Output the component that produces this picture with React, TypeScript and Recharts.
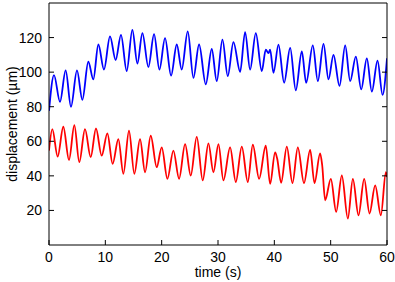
import React from 'react';
import { LineChart, Line, XAxis, YAxis, Label } from 'recharts';

const blueTime = [0, 0.89, 1.95, 2.96, 3.9, 4.97, 5.92, 6.98, 7.87, 8.76, 9.76, 10.83, 11.83, 12.78, 13.79, 14.8, 15.69, 16.58, 17.64, 18.65, 19.6, 20.6, 21.67, 22.68, 23.56, 24.63, 25.64, 26.64, 27.83, 28.89, 29.78, 30.79, 31.73, 32.74, 33.93, 34.81, 35.7, 36.71, 37.77, 38.48, 38.96, 39.25, 39.85, 40.73, 41.74, 42.81, 43.81, 44.88, 45.65, 46.83, 47.72, 48.73, 49.61, 50.5, 51.57, 52.58, 53.46, 54.47, 55.42, 56.42, 57.31, 58.32, 59.21, 60];
const blueDisp = [77.6, 98.3, 82.8, 101, 80, 101, 84, 106, 95.8, 116, 101.5, 120.7, 107, 121.6, 100.6, 124.5, 105, 122.6, 103, 122, 101.5, 119.7, 98, 116, 101.5, 123.6, 96.7, 116, 92.9, 113.4, 94.8, 118.8, 97.7, 117.4, 100.2, 123.2, 101.5, 122.6, 100.6, 113, 111, 113, 99.6, 115.9, 93.9, 114, 89.5, 112, 93.9, 115.5, 94.8, 116.3, 95.8, 110, 92, 115.5, 94.8, 109, 90, 108, 88.7, 106.7, 86.8, 108];

const redTime = [0, 0.59, 1.54, 2.54, 3.55, 4.5, 5.38, 6.39, 7.4, 8.34, 9.35, 10.36, 11.3, 12.31, 13.2, 14.2, 15.15, 16.16, 17.05, 18.06, 19.12, 20.01, 21.02, 22.08, 23.09, 24.16, 25.16, 26.23, 27.29, 28.3, 29.19, 30.08, 30.96, 32.15, 33.16, 34.22, 35.29, 36.18, 37.3, 38.48, 39.25, 40.14, 40.5, 41.21, 42.21, 43.22, 44.17, 45.26, 46.36, 47.13, 48.13, 48.5, 49.02, 50.03, 50.98, 51.98, 53.05, 53.94, 54.94, 55.95, 56.9, 57.9, 58.91, 59.8, 60];
const redDisp = [54.6, 67, 51.1, 68.4, 49.2, 69.3, 47.9, 67, 50.8, 67.4, 51.7, 64.6, 46.9, 61.3, 41.2, 66.1, 41.2, 61.3, 42.1, 63.2, 45, 56.5, 38.3, 54.6, 38.3, 58.4, 40.2, 62.6, 37.4, 58.8, 42.1, 58.4, 37.4, 56.5, 36.4, 56.9, 36.4, 58, 38.3, 57.5, 35.4, 53.6, 50, 36, 56.9, 35.8, 56.5, 35.8, 55, 35.8, 53, 46, 25.9, 38.3, 19.2, 40.2, 15.3, 38.3, 17.2, 38.3, 18.2, 34.5, 17.2, 42.1, 39.3];

const xTicks = [0, 10, 20, 30, 40, 50, 60];
const yTicks = [20, 40, 60, 80, 100, 120];

const blueData = blueTime.map((t, i) => ({ t, v: blueDisp[i] }));
const redData = redTime.map((t, i) => ({ t, v: redDisp[i] }));

const font = "'Liberation Sans', Arial, sans-serif";
const TICK_LEN = 5;
const M = 8;

const BottomTick = (p: any) => (
  <g>
    <line x1={p.x} x2={p.x} y1={p.y - M} y2={p.y - M - TICK_LEN} stroke="#000" strokeWidth={1} />
    <text x={p.x} y={p.y - 1} dy="0.71em" textAnchor="middle" fill="#000" fontSize={14} fontFamily={font}>{p.payload.value}</text>
  </g>
);
const LeftTick = (p: any) => (
  <g>
    <line x1={p.x + M} x2={p.x + M + TICK_LEN} y1={p.y} y2={p.y} stroke="#000" strokeWidth={1} />
    <text x={p.x + 1} y={p.y} dy="0.355em" textAnchor="end" fill="#000" fontSize={14} fontFamily={font}>{p.payload.value}</text>
  </g>
);
const TopTick = (p: any) => (
  <line x1={p.x} x2={p.x} y1={p.y + M} y2={p.y + M + TICK_LEN} stroke="#000" strokeWidth={1} />
);
const RightTick = (p: any) => (
  <line x1={p.x - M} x2={p.x - M - TICK_LEN} y1={p.y} y2={p.y} stroke="#000" strokeWidth={1} />
);

export default function App() {
  return (
    <div style={{ position: 'absolute', left: 0, top: 0, width: 395, height: 282, background: '#fff', fontFamily: font }}>
      <LineChart width={395} height={282} margin={{ top: 2, right: 7, bottom: 0, left: 0 }}>
        <XAxis
          xAxisId="b"
          type="number"
          dataKey="t"
          domain={[0, 60]}
          ticks={xTicks}
          interval={0}
          height={37}
          tickSize={0}
          tickMargin={M}
          axisLine={{ stroke: '#000' }}
          tickLine={false}
          tick={<BottomTick />}
          allowDataOverflow
        >
          <Label value="time (s)" position="insideBottom" offset={5} style={{ fill: '#000', fontSize: 14, fontFamily: font }} />
        </XAxis>
        <XAxis
          xAxisId="t"
          orientation="top"
          type="number"
          domain={[0, 60]}
          ticks={xTicks}
          interval={0}
          height={1}
          tickSize={0}
          tickMargin={M}
          axisLine={{ stroke: '#000' }}
          tickLine={false}
          tick={<TopTick />}
          allowDataOverflow
        />
        <YAxis
          yAxisId="l"
          type="number"
          domain={[0, 140]}
          ticks={yTicks}
          interval={0}
          width={49}
          tickSize={0}
          tickMargin={M}
          axisLine={{ stroke: '#000' }}
          tickLine={false}
          tick={<LeftTick />}
          allowDataOverflow
        >
          <Label value="displacement (µm)" angle={-90} position="insideLeft" offset={12} style={{ fill: '#000', fontSize: 14, fontFamily: font, textAnchor: 'middle' }} />
        </YAxis>
        <YAxis
          yAxisId="r"
          orientation="right"
          type="number"
          domain={[0, 140]}
          ticks={yTicks}
          interval={0}
          width={1}
          tickSize={0}
          tickMargin={M}
          axisLine={{ stroke: '#000' }}
          tickLine={false}
          tick={<RightTick />}
          allowDataOverflow
        />
        <Line xAxisId="b" yAxisId="l" data={blueData} dataKey="v" type="monotone" stroke="#0000ff" strokeWidth={1.8} dot={false} isAnimationActive={false} />
        <Line xAxisId="b" yAxisId="l" data={redData} dataKey="v" type="monotone" stroke="#ff0000" strokeWidth={1.8} dot={false} isAnimationActive={false} />
      </LineChart>
    </div>
  );
}
